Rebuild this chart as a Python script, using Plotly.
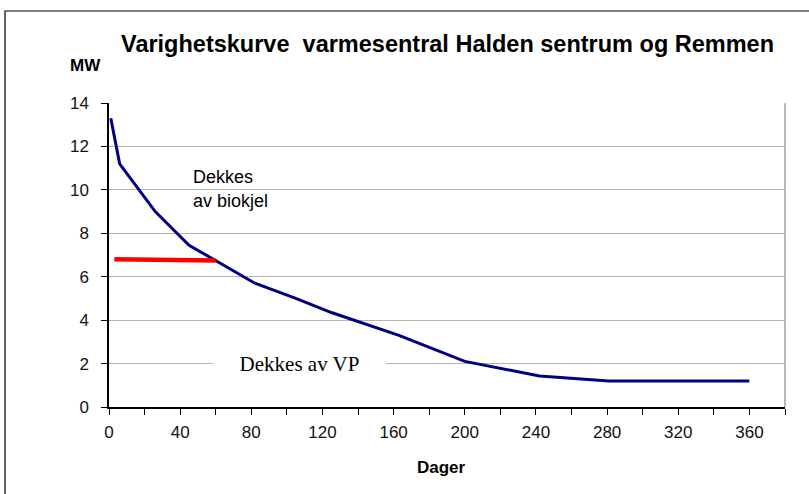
import plotly.graph_objects as go

# Data
dager = [1, 6, 26, 45, 82, 105, 125, 163, 200, 242, 281, 360]
mw = [13.3, 11.2, 9.0, 7.45, 5.7, 5.0, 4.35, 3.3, 2.1, 1.43, 1.2, 1.2]
red_x = [3, 30, 60]
red_y = [6.8, 6.78, 6.75]

x_tickvals = list(range(0, 381, 20))
x_ticktext = [str(v) if v % 40 == 0 and v <= 360 else "" for v in x_tickvals]
y_tickvals = list(range(0, 15, 2))

title_text = "Varighetskurve  varmesentral Halden sentrum og Remmen"

fig = go.Figure()
fig.add_trace(go.Scatter(x=dager, y=mw, mode="lines",
                         line=dict(color="#000080", width=3), showlegend=False))
fig.add_trace(go.Scatter(x=red_x, y=red_y, mode="lines",
                         line=dict(color="#ff0000", width=4.5), showlegend=False))

L, R, T, B = 109, 24, 103, 87
W, H = 809, 494
pw, ph = W - L - R, H - T - B

def px(x):
    return (x - L) / pw

def py(y):
    return (H - B - y) / ph

fig.update_layout(
    width=W, height=H,
    margin=dict(l=L, r=R, t=T, b=B),
    paper_bgcolor="white", plot_bgcolor="white",
    font=dict(family="Liberation Sans, Arial", color="black", size=17),
    xaxis=dict(range=[0, 380], tickvals=x_tickvals, ticktext=x_ticktext,
               ticks="outside", ticklen=6, tickcolor="black", tickwidth=1,
               showline=True, linecolor="black", linewidth=1.5,
               showgrid=False, zeroline=False, ticklabelstandoff=3,
               tickfont=dict(size=17, color="#111111")),
    yaxis=dict(range=[0, 14], tickvals=y_tickvals,
               ticks="outside", ticklen=6, tickcolor="black", tickwidth=1,
               showline=True, linecolor="black", linewidth=1.5,
               showgrid=True, gridcolor="#b4b4b4", gridwidth=1,
               zeroline=False, ticklabelstandoff=9,
               tickfont=dict(size=17, color="#111111")),
    shapes=[
        dict(type="line", xref="paper", yref="paper", x0=1, x1=1, y0=0, y1=1,
             line=dict(color="#a0a0a0", width=1.5)),
        dict(type="rect", xref="paper", yref="paper",
             x0=px(5), x1=px(830), y0=py(520), y1=py(11),
             line=dict(color="black", width=1.2), layer="below"),
    ],
    annotations=[
        dict(text="<b>" + title_text + "</b>", xref="paper", yref="paper",
             x=px(448), y=py(44), showarrow=False, xanchor="center", yanchor="middle",
             font=dict(size=23.5)),
        dict(text="<b>MW</b>", xref="paper", yref="paper",
             x=px(68), y=py(65), showarrow=False, xanchor="left", yanchor="middle",
             font=dict(size=17)),
        dict(text="<b>Dager</b>", xref="paper", yref="paper",
             x=px(441), y=py(467), showarrow=False, xanchor="center", yanchor="middle",
             font=dict(size=17)),
        dict(text="Dekkes", x=46, y=10.6, showarrow=False, xanchor="left",
             yanchor="middle", font=dict(size=18)),
        dict(text="av biokjel", x=46, y=9.5, showarrow=False, xanchor="left",
             yanchor="middle", font=dict(size=18)),
        dict(text="Dekkes av VP", x=107, y=2, showarrow=False, xanchor="center",
             yanchor="middle", bgcolor="white", width=169,
             font=dict(size=21, family="Liberation Serif, Times New Roman")),
    ],
)

fig.write_html("out.html", config={"displayModeBar": False},
               post_script="document.body.style.margin='0';")
